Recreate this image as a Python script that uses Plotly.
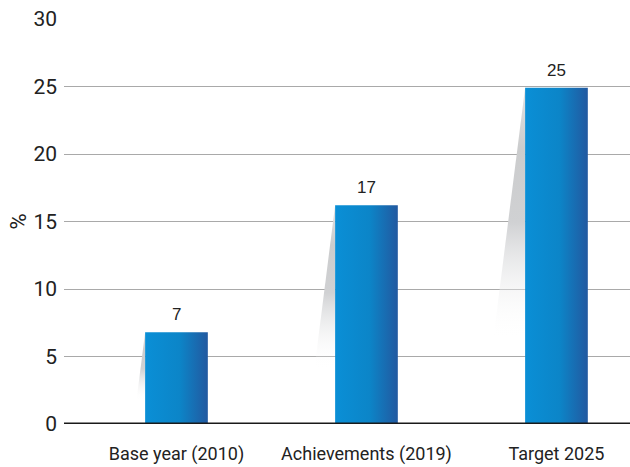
import plotly.graph_objects as go

categories = ["Base year (2010)", "Achievements (2019)", "Target 2025"]
values = [6.8, 16.2, 24.9]
value_labels = ["7", "17", "25"]
y_ticks = [0, 5, 10, 15, 20, 25, 30]

FONT = "Roboto, sans-serif"
BAR_W = 0.33
SHADOW_SLOPE = 0.009

fig = go.Figure()

for i, v in enumerate(values):
    left = i - BAR_W / 2
    right = i + BAR_W / 2
    # shadow
    fig.add_trace(go.Scatter(
        x=[left, left - SHADOW_SLOPE * v, left, left],
        y=[v, 0, 0, v],
        mode="lines", line=dict(width=0), fill="toself",
        fillgradient=dict(type="vertical",
                          colorscale=[[0, "rgba(255,255,255,0)"], [0.25, "rgba(255,255,255,0)"],
                                      [0.6, "#d0d1d3"], [0.82, "#cbcccd"], [1, "#e2e2e3"]]),
        hoverinfo="skip", showlegend=False))
    # bar
    fig.add_trace(go.Scatter(
        x=[left, right, right, left, left],
        y=[0, 0, v, v, 0],
        mode="lines", line=dict(width=0), fill="toself",
        fillgradient=dict(type="horizontal",
                          colorscale=[[0, "#0a8fd6"], [0.55, "#0c85c8"], [1, "#2259a0"]]),
        hoverinfo="skip", showlegend=False))

for i, (v, lab) in enumerate(zip(values, value_labels)):
    fig.add_annotation(x=i, y=v, text=lab, showarrow=False, yanchor="bottom", yshift=6,
                       font=dict(family="Liberation Sans, Arial, sans-serif", size=17, color="#222"))

fig.update_layout(
    width=630, height=467,
    margin=dict(l=64, r=0, t=19, b=43),
    plot_bgcolor="white", paper_bgcolor="white",
    font=dict(family=FONT, size=20, color="#222"),
    xaxis=dict(range=[-0.592, 2.387], tickvals=[0, 1, 2], ticktext=categories,
               showgrid=False, zeroline=False, showline=False, ticks="", automargin=False,
               tickfont=dict(size=18), ticklabelstandoff=17),
    yaxis=dict(range=[0, 30], tickvals=y_ticks, showgrid=True, gridcolor="#a9a9a9",
               gridwidth=1, zeroline=False, showline=False, ticks="", automargin=False,
               tickfont=dict(size=21), ticklabelstandoff=6,
               title=dict(text="%", standoff=0, font=dict(size=22))),
)

fig.add_shape(type="line", xref="paper", yref="y", x0=0, x1=1, y0=0, y1=0,
              line=dict(color="#1a1a1a", width=3))

fig.write_html("out.html")
